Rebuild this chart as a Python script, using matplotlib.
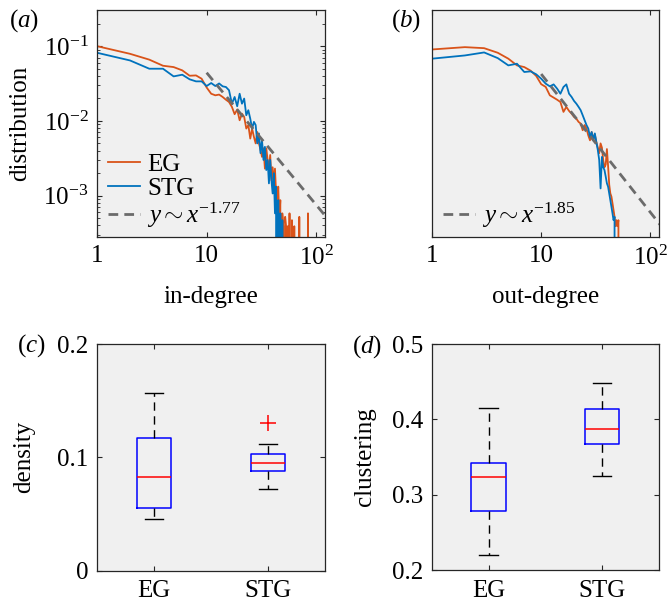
import matplotlib
matplotlib.use('Agg')
import matplotlib.pyplot as plt
from matplotlib.ticker import NullLocator
import numpy as np

# degree distributions (index 0 -> degree 1), 0 = no nodes
eg_in = [0.100, 0.079, 0.066, 0.0547, 0.0525, 0.0474, 0.0402, 0.0406, 0.0367, 0.028,
         0.0231, 0.022, 0.0225, 0.0209, 0.0192, 0.0179, 0.0154, 0.0123, 0.0142, 0.0102,
         0.0125, 0.0113, 0.0079, 0.0088, 0.0058, 0.0079, 0.0061, 0.0050, 0.0071, 0.0050,
         0.0041, 0.0033, 0.0043, 0.0023, 0.0043, 0.0030, 0.0022, 0.0035, 0.0016, 0.0024,
         0.00146, 0.0023, 0.00107, 0.00071, 0.00132, 0.00047, 0.00087, 0, 0.00058, 0.00039,
         0, 0.00052, 0.00039, 0, 0.00039, 0, 0.00058, 0, 0, 0.00047,
         0, 0, 0.00039, 0, 0, 0, 0, 0, 0, 0.00052,
         0, 0, 0, 0, 0, 0, 0, 0, 0, 0,
         0, 0, 0, 0.00058, 0]
stg_in = [0.0816, 0.0644, 0.0499, 0.0499, 0.0394, 0.0415, 0.036, 0.0338, 0.0338, 0.0293,
          0.0321, 0.0293, 0.0317, 0.029, 0.0284, 0.0257, 0.017, 0.0209, 0.0157, 0.0231,
          0.017, 0.0199, 0.0119, 0.0139, 0.0107, 0.0079, 0.0097, 0.0088, 0.005, 0.0068,
          0.0037, 0.0055, 0.003, 0.0045, 0.0022, 0.003, 0.00146, 0.003, 0.0016, 0.00107,
          0.002, 0.00058, 0.00132, 0, 0.00087, 0, 0.00058, 0, 0.00047, 0]
eg_out = [0.0903, 0.097, 0.094, 0.0816, 0.068, 0.0553, 0.0525, 0.047, 0.040, 0.031,
          0.0285, 0.022, 0.0205, 0.0192, 0.0179, 0.0132, 0.0154, 0.0136, 0.0125, 0.0113,
          0.0107, 0.0097, 0.0092, 0.0075, 0.0088, 0.0079, 0.0064, 0.0055, 0.0071, 0.0058,
          0.0066, 0.0052, 0.0044, 0.0037, 0.005, 0.0044, 0.003, 0.0024, 0.0026, 0.0042,
          0.0025, 0.0014, 0.00107, 0.00097, 0.00079, 0.00064, 0.00052, 0.00039, 0.00047, 0.00039,
          0.00047, 0]
stg_out = [0.068, 0.0751, 0.0824, 0.0692, 0.0553, 0.0582, 0.0451, 0.046, 0.042, 0.0367,
           0.0315, 0.029, 0.0308, 0.027, 0.0231, 0.0284, 0.0308, 0.0231, 0.0209, 0.0185,
           0.017, 0.0154, 0.0139, 0.0119, 0.0102, 0.0088, 0.0079, 0.0061, 0.0071, 0.0055,
           0.0068, 0.0052, 0.0041, 0.003, 0.00125, 0.0033, 0.0024, 0.0022, 0.0018, 0.00146,
           0.00132, 0.00107, 0.00087, 0.00071, 0.00058, 0.00047, 0.00052, 0]

# power-law fits y = c * x^-k, drawn from x=10 onwards
fit_in = (2.6, 1.77)
fit_out = (3.0, 1.85)

# box plot stats: whisker low, q1, median, q3, whisker high
groups = ['EG', 'STG']
density_eg = [0.0453, 0.0550, 0.0829, 0.1168, 0.1570]
density_stg = [0.0720, 0.0882, 0.0953, 0.1032, 0.1118]
density_stg_out = [0.130]
clust_eg = [0.2199, 0.2783, 0.3239, 0.3425, 0.4155]
clust_stg = [0.3248, 0.3668, 0.3872, 0.4133, 0.4487]

ORANGE = '#D95319'
BLUE = '#0072BD'
GRAY = '#6b6b6b'

plt.rcParams['font.family'] = ['Liberation Serif', 'DejaVu Serif']
plt.rcParams['mathtext.fontset'] = 'custom'
plt.rcParams['mathtext.rm'] = 'Liberation Serif'
plt.rcParams['mathtext.it'] = 'Liberation Serif:italic'
plt.rcParams['font.size'] = 18


def style_axes(ax):
    ax.set_facecolor('#f0f0f0')
    for s in ax.spines.values():
        s.set_color('#262626')
        s.set_linewidth(0.9)
    ax.tick_params(which='both', direction='in', top=True, right=True, colors='#262626',
                   labelcolor='black', pad=6)
    ax.tick_params(which='major', length=3.5)
    ax.tick_params(which='minor', length=2)


def degree_panel(ax, eg, stg, fit, xlabel, show_groups, ylabels):
    style_axes(ax)
    ax.set_xscale('log')
    ax.set_yscale('log', nonpositive='clip')
    ax.plot(np.arange(1, len(eg) + 1), eg, color=ORANGE, lw=1.3, label='EG')
    ax.plot(np.arange(1, len(stg) + 1), stg, color=BLUE, lw=1.3, label='STG')
    xf = np.array([10, 125])
    ax.plot(xf, fit[0] * xf ** -fit[1], color=GRAY, lw=2, dashes=(3.5, 2.2),
            label=r'$y \sim x^{-%.2f}$' % fit[1])
    ax.set_xlim(1, 120)
    ax.set_ylim(2.8e-4, 0.3)
    ax.set_xticks([1, 10, 100], labels=['1', '10', r'$10^2$'])
    ax.xaxis.set_minor_locator(NullLocator())
    if ylabels:
        ax.set_yticks([1e-3, 1e-2, 1e-1], labels=[r'$10^{-3}$', r'$10^{-2}$', r'$10^{-1}$'])
    else:
        ax.set_yticks([])
        ax.yaxis.set_minor_locator(NullLocator())
    ax.set_xlabel(xlabel)
    ax.xaxis.set_label_coords(0.5, -0.215)
    handles, labels = ax.get_legend_handles_labels()
    if not show_groups:
        handles, labels = handles[2:], labels[2:]
    ax.legend(handles, labels, loc='lower left', bbox_to_anchor=(0.05, 0.03), frameon=False,
              handlelength=1.25, handletextpad=0.3, labelspacing=0.05, borderpad=0,
              borderaxespad=0)


def box_panel(ax, eg, stg, outliers, ylim, yticks, ylabel, labx):
    style_axes(ax)
    stats = []
    for name, s, fl in [(groups[0], eg, []), (groups[1], stg, outliers)]:
        stats.append(dict(label=name, whislo=s[0], q1=s[1], med=s[2], q3=s[3],
                          whishi=s[4], fliers=fl))
    ax.bxp(stats, positions=[1, 2], widths=0.3, showfliers=True,
           boxprops=dict(color='#0000ff', lw=1.1),
           medianprops=dict(color='#ff0000', lw=1.1),
           whiskerprops=dict(color='black', lw=1.0, dashes=(6, 4)),
           capprops=dict(color='black', lw=1.0),
           capwidths=0.16,
           flierprops=dict(marker='+', markeredgecolor='#ff0000', markersize=11, mew=1.1))
    ax.set_xlim(0.5, 2.5)
    ax.set_ylim(*ylim)
    ax.set_yticks(yticks, labels=[('%g' % t) if t != 0 else '0' for t in yticks])
    ax.set_xticks([1, 2], labels=groups)
    ax.tick_params(axis='x', pad=7)
    ax.set_ylabel(ylabel)
    ax.yaxis.set_label_coords(labx, 0.5)


fig = plt.figure(figsize=(6.67, 6.03), dpi=100)
ax_a = fig.add_axes([0.1454, 0.607, 0.3418, 0.3756])
ax_b = fig.add_axes([0.6477, 0.607, 0.3403, 0.3756])
ax_c = fig.add_axes([0.1454, 0.0536, 0.3418, 0.3759])
ax_d = fig.add_axes([0.6472, 0.0547, 0.3408, 0.3748])

degree_panel(ax_a, eg_in, stg_in, fit_in, 'in-degree', True, True)
ax_a.set_ylabel('distribution')
ax_a.yaxis.set_label_coords(-0.29, 0.5)
degree_panel(ax_b, eg_out, stg_out, fit_out, 'out-degree', False, False)

box_panel(ax_c, density_eg, density_stg, density_stg_out, (0, 0.2), [0, 0.1, 0.2],
          'density', -0.27)
box_panel(ax_d, clust_eg, clust_stg, [], (0.2, 0.5), [0.2, 0.3, 0.4, 0.5],
          'clustering', -0.245)

for txt, x, y in [('a', 24, 21), ('b', 406, 21), ('c', 31, 346), ('d', 367, 347)]:
    fig.text(x / 667, 1 - y / 603, r'$(%s)$' % txt, ha='center', va='center', fontsize=18)

fig.savefig('out.png', dpi=100)
